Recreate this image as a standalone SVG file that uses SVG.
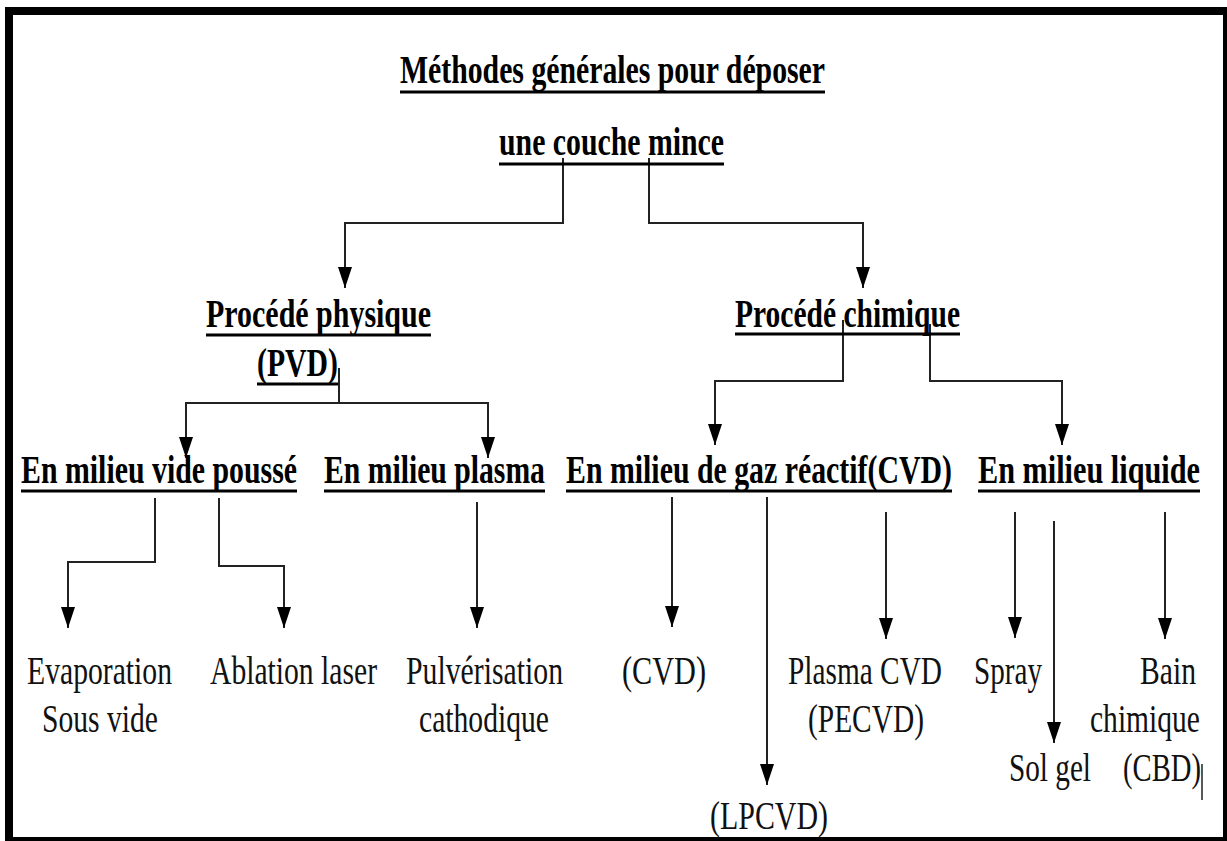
<svg xmlns="http://www.w3.org/2000/svg" width="1227" height="841" viewBox="0 0 1227 841">
<style>
.h{font-family:"Liberation Serif","Times New Roman",serif;font-weight:bold;font-size:40px;fill:#000}
.l{font-family:"Liberation Serif","Times New Roman",serif;font-size:40px;fill:#111}
.u{stroke:#000;stroke-width:3;fill:none}
.c{stroke:#222;stroke-width:2;fill:none;marker-end:url(#ah)}
.n{stroke:#222;stroke-width:1.5;fill:none}
</style>
<defs>
<marker id="ah" markerUnits="userSpaceOnUse" viewBox="0 0 21 14" refX="21" refY="7" markerWidth="21" markerHeight="14" orient="auto">
<path d="M0,0 L21,7 L0,14 z" fill="#000"/>
</marker>
</defs>
<rect x="0" y="0" width="1227" height="841" fill="#fff"/>
<rect x="9" y="11" width="1218" height="830" fill="none" stroke="#000" stroke-width="8"/>

<g id="connectors">
<path class="c" d="M563,158 V223 H345 V288"/>
<path class="c" d="M649,158 V223 H863 V288"/>
<path class="c" d="M339,368 V403 H186 V458"/>
<path class="c" d="M339,403 H488 V458"/>
<path class="c" d="M843,320 V381 H715 V445"/>
<path class="c" d="M930,324 V381 H1062 V445"/>
<path class="c" d="M155,498 V562 H68 V628"/>
<path class="c" d="M219,498 V566 H284 V628"/>
<path class="c" d="M477,502 V628"/>
<path class="c" d="M672,497 V627"/>
<path class="c" d="M767,497 V785"/>
<path class="c" d="M886,512 V639"/>
<path class="c" d="M1015,512 V638"/>
<path class="c" d="M1054,521 V743"/>
<path class="c" d="M1165,512 V639"/>
</g>

<g id="title">
<text class="h" transform="translate(400,83) scale(0.745,1)" textLength="570.5" lengthAdjust="spacingAndGlyphs">Méthodes générales pour déposer</text>
<line class="u" x1="400" y1="92" x2="825" y2="92"/>
<text class="h" transform="translate(499,155) scale(0.745,1)" textLength="302" lengthAdjust="spacingAndGlyphs">une couche mince</text>
<line class="u" x1="499" y1="164" x2="724" y2="164"/>
</g>

<g id="physique">
<text class="h" transform="translate(206,327) scale(0.745,1)" textLength="302" lengthAdjust="spacingAndGlyphs">Procédé physique</text>
<line class="u" x1="206" y1="335" x2="431" y2="335"/>
<text class="h" transform="translate(257,376) scale(0.745,1)" textLength="108.7" lengthAdjust="spacingAndGlyphs">(PVD)</text>
<line class="u" x1="257" y1="384" x2="338" y2="384"/>
</g>

<g id="chimique">
<text class="h" transform="translate(735,327) scale(0.745,1)" textLength="302" lengthAdjust="spacingAndGlyphs">Procédé chimique</text>
<line class="u" x1="735" y1="334" x2="960" y2="334"/>
</g>

<g id="vide">
<text class="h" transform="translate(21,483) scale(0.745,1)" textLength="370.5" lengthAdjust="spacingAndGlyphs">En milieu vide poussé</text>
<line class="u" x1="21" y1="491" x2="297" y2="491"/>
</g>
<g id="plasma">
<text class="h" transform="translate(324,483) scale(0.745,1)" textLength="296.6" lengthAdjust="spacingAndGlyphs">En milieu plasma</text>
<line class="u" x1="324" y1="491" x2="545" y2="491"/>
</g>
<g id="gaz">
<text class="h" transform="translate(566,483) scale(0.745,1)" textLength="518.1" lengthAdjust="spacingAndGlyphs">En milieu de gaz réactif(CVD)</text>
<line class="u" x1="566" y1="491" x2="952" y2="491"/>
</g>
<g id="liquide">
<text class="h" transform="translate(978,483) scale(0.745,1)" textLength="298" lengthAdjust="spacingAndGlyphs">En milieu liquide</text>
<line class="u" x1="978" y1="491" x2="1200" y2="491"/>
</g>

<g id="evaporation">
<text class="l" transform="translate(27,684) scale(0.74,1)" textLength="196" lengthAdjust="spacingAndGlyphs">Evaporation</text>
<text class="l" transform="translate(42,732) scale(0.74,1)" textLength="156.8" lengthAdjust="spacingAndGlyphs">Sous vide</text>
</g>
<g id="ablation">
<text class="l" transform="translate(210,684) scale(0.74,1)" textLength="225.7" lengthAdjust="spacingAndGlyphs">Ablation laser</text>
</g>
<g id="pulverisation">
<text class="l" transform="translate(406,684) scale(0.74,1)" textLength="212.2" lengthAdjust="spacingAndGlyphs">Pulvérisation</text>
<text class="l" transform="translate(419,732) scale(0.74,1)" textLength="175.7" lengthAdjust="spacingAndGlyphs">cathodique</text>
</g>
<g id="cvd">
<text class="l" transform="translate(622,684) scale(0.74,1)" textLength="113.5" lengthAdjust="spacingAndGlyphs">(CVD)</text>
</g>
<g id="lpcvd">
<text class="l" transform="translate(710,829) scale(0.74,1)" textLength="159.5" lengthAdjust="spacingAndGlyphs">(LPCVD)</text>
</g>
<g id="pecvd">
<text class="l" transform="translate(788,684) scale(0.74,1)" textLength="208.1" lengthAdjust="spacingAndGlyphs">Plasma CVD</text>
<text class="l" transform="translate(808,732) scale(0.74,1)" textLength="156.8" lengthAdjust="spacingAndGlyphs">(PECVD)</text>
</g>
<g id="spray">
<text class="l" transform="translate(974,684) scale(0.74,1)" textLength="91.9" lengthAdjust="spacingAndGlyphs">Spray</text>
</g>
<g id="solgel">
<text class="l" transform="translate(1009,781) scale(0.74,1)" textLength="110.8" lengthAdjust="spacingAndGlyphs">Sol gel</text>
</g>
<g id="bain">
<text class="l" transform="translate(1140,684) scale(0.74,1)" textLength="75.7" lengthAdjust="spacingAndGlyphs">Bain</text>
<text class="l" transform="translate(1090,732) scale(0.74,1)" textLength="148.6" lengthAdjust="spacingAndGlyphs">chimique</text>
<text class="l" transform="translate(1123,781) scale(0.74,1)" textLength="105.4" lengthAdjust="spacingAndGlyphs">(CBD)</text>
<line class="n" x1="1202" y1="764" x2="1202" y2="800"/>
</g>
</svg>
